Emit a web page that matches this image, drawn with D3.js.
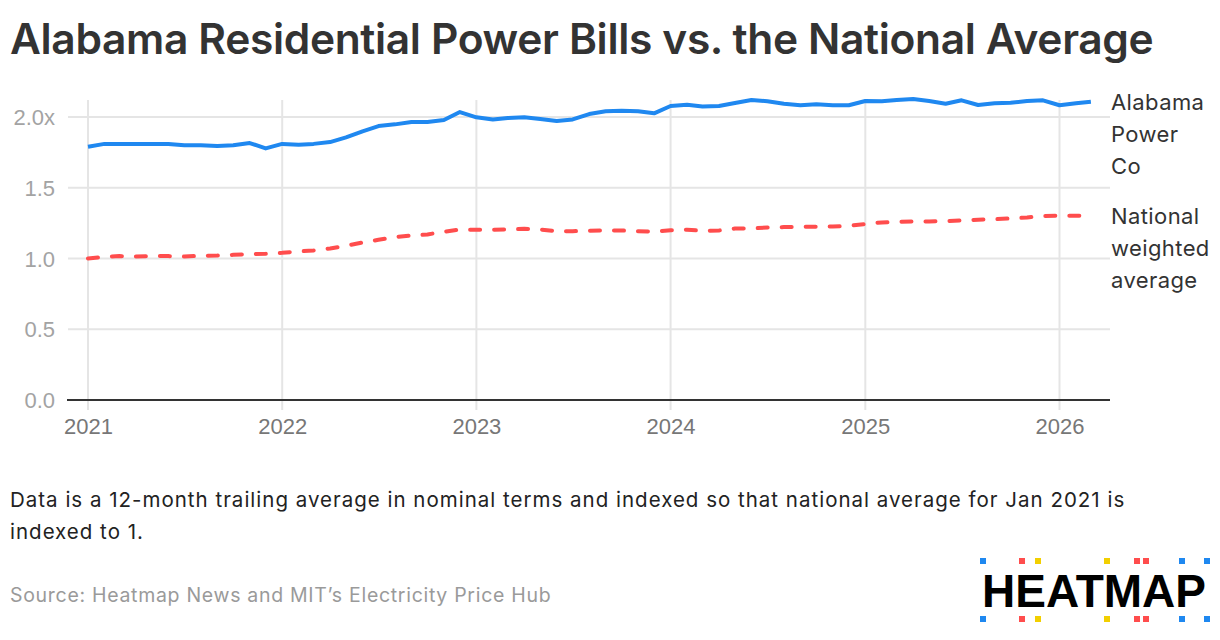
<!DOCTYPE html>
<html>
<head>
<meta charset="utf-8">
<script src="https://cdn.jsdelivr.net/npm/d3@7"></script>
<style>
  body { margin: 0; background: #fff; }
  svg { display: block; }
</style>
</head>
<body>
<svg id="chart" width="1220" height="640"></svg>
<script>
// monthly values, Jan 2021 .. Mar 2026 (indexed, national Jan 2021 = 1)
const startYear = 2021;
const alabama = [
  1.79, 1.81, 1.81, 1.81, 1.81, 1.81, 1.80, 1.80, 1.795, 1.80, 1.816, 1.778,
  1.81, 1.804, 1.81, 1.823, 1.856, 1.899, 1.936, 1.948, 1.965, 1.965, 1.979, 2.035,
  1.998, 1.983, 1.993, 1.998, 1.986, 1.972, 1.983, 2.021, 2.04, 2.045, 2.04, 2.026,
  2.078, 2.087, 2.075, 2.078, 2.099, 2.12, 2.111, 2.094, 2.083, 2.09, 2.083, 2.083,
  2.113, 2.111, 2.12, 2.127, 2.113, 2.094, 2.118, 2.085, 2.097, 2.101, 2.113, 2.118,
  2.083, 2.097, 2.108
];
const national = [
  1.00, 1.012, 1.017, 1.014, 1.017, 1.017, 1.014, 1.019, 1.021, 1.026, 1.031, 1.033,
  1.04, 1.05, 1.057, 1.071, 1.09, 1.113, 1.132, 1.151, 1.163, 1.17, 1.189, 1.205,
  1.203, 1.203, 1.205, 1.21, 1.205, 1.193, 1.193, 1.196, 1.198, 1.198, 1.193, 1.189,
  1.20, 1.203, 1.196, 1.198, 1.212, 1.212, 1.219, 1.222, 1.224, 1.224, 1.226, 1.231,
  1.243, 1.255, 1.259, 1.262, 1.262, 1.264, 1.269, 1.274, 1.278, 1.283, 1.29, 1.30,
  1.302, 1.302, 1.302
];
const yTicks = [0, 0.5, 1, 1.5, 2];
const xTickYears = [2021, 2022, 2023, 2024, 2025, 2026];
const seriesNames = [["Alabama", "Power", "Co"], ["National", "weighted", "average"]];
const noteLines = [
  "Data is a 12-month trailing average in nominal terms and indexed so that national average for Jan 2021 is",
  "indexed to 1."
];
const sourceText = "Source: Heatmap News and MIT\u2019s Electricity Price Hub";

const svg = d3.select("#chart");
const textFont = "Inter, 'Noto Sans', sans-serif";
const axisFont = "'Liberation Sans', Arial, sans-serif";

const x = d3.scaleTime()
  .domain([new Date(2021, 0, 1), new Date(2026, 0, 1)])
  .range([88, 1059.5]);
const y = d3.scaleLinear().domain([0, 2]).range([400, 117]);

const dates = alabama.map((d, i) => new Date(startYear, i, 1));

// title
svg.append("text")
  .attr("x", 10).attr("y", 54)
  .attr("font-family", textFont)
  .attr("font-weight", 600)
  .attr("font-size", 42.5)
  .attr("letter-spacing", -0.35)
  .attr("fill", "#333")
  .text("Alabama Residential Power Bills vs. the National Average");

// grid
const grid = svg.append("g");
grid.selectAll(".hg").data(yTicks.filter(d => d > 0)).enter().append("line")
  .attr("x1", 68).attr("x2", 1110)
  .attr("y1", d => y(d)).attr("y2", d => y(d))
  .attr("stroke", "#e5e5e5").attr("stroke-width", 2);
grid.selectAll(".vg").data(xTickYears).enter().append("line")
  .attr("x1", d => x(new Date(d, 0, 1))).attr("x2", d => x(new Date(d, 0, 1)))
  .attr("y1", 100).attr("y2", 410)
  .attr("stroke", "#e5e5e5").attr("stroke-width", 2);

// baseline
svg.append("line")
  .attr("x1", 67).attr("x2", 1110)
  .attr("y1", y(0)).attr("y2", y(0))
  .attr("stroke", "#333").attr("stroke-width", 2);

// y axis labels
const yAxis = svg.append("g").attr("transform", "translate(55,0)")
  .call(d3.axisLeft(y).tickValues(yTicks).tickSize(0).tickPadding(0)
    .tickFormat(d => d === 2 ? "2.0x" : d3.format(".1f")(d)));
yAxis.select(".domain").remove();
yAxis.selectAll("text")
  .attr("font-family", axisFont).attr("font-size", 22).attr("fill", "#a3a3a3")
  .attr("dy", "0.35em");

// x axis labels
const xAxis = svg.append("g").attr("transform", "translate(0,418)")
  .call(d3.axisBottom(x).tickValues(xTickYears.map(d => new Date(d, 0, 1)))
    .tickSize(0).tickPadding(0).tickFormat(d3.timeFormat("%Y")));
xAxis.select(".domain").remove();
xAxis.selectAll("text")
  .attr("font-family", axisFont).attr("font-size", 22).attr("fill", "#777")
  .attr("dy", "0.71em");

// lines
const line = d3.line().x((d, i) => x(dates[i])).y(d => y(d));
svg.append("path").datum(national)
  .attr("d", line).attr("fill", "none")
  .attr("stroke", "#ff4d4d").attr("stroke-width", 4)
  .attr("stroke-linecap", "round").attr("stroke-linejoin", "round")
  .attr("stroke-dasharray", "10,14");
svg.append("path").datum(alabama)
  .attr("d", line).attr("fill", "none")
  .attr("stroke", "#1f88f0").attr("stroke-width", 4)
  .attr("stroke-linejoin", "round");

// series labels
const labelTops = [110, 224];
seriesNames.forEach((lines, k) => {
  const t = svg.append("text")
    .attr("font-family", textFont).attr("font-size", 22)
    .attr("letter-spacing", 0.4).attr("fill", "#333");
  lines.forEach((s, j) => {
    t.append("tspan").attr("x", 1111).attr("y", labelTops[k] + j * 32).text(s);
  });
});

// note
noteLines.forEach((s, i) => {
  svg.append("text")
    .attr("x", 10).attr("y", 507 + i * 32)
    .attr("font-family", textFont).attr("font-size", 20.5)
    .attr("letter-spacing", 1.0).attr("fill", "#222")
    .text(s);
});

// source
svg.append("text")
  .attr("x", 10).attr("y", 602)
  .attr("font-family", textFont).attr("font-size", 19.5)
  .attr("letter-spacing", 0.7).attr("fill", "#9a9a9a")
  .text(sourceText);

// logo
const logoDots = [
  [983, "#1f88f0"], [1022, "#ff4d4d"], [1038, "#f2cf00"], [1107, "#f2cf00"],
  [1137, "#ff4d4d"], [1146, "#ff4d4d"], [1182, "#1f88f0"], [1207, "#1f88f0"]
];
const logo = svg.append("g");
[561, 619].forEach(cy => {
  logo.selectAll(null).data(logoDots).enter().append("rect")
    .attr("x", d => d[0] - 3).attr("y", cy - 3)
    .attr("width", 6).attr("height", 6)
    .attr("fill", d => d[1]);
});
logo.append("text")
  .attr("x", 982).attr("y", 607)
  .attr("font-family", "'Liberation Sans', Arial, sans-serif")
  .attr("font-weight", 700).attr("font-size", 46)
  .attr("fill", "#000")
  .text("HEATMAP");
</script>
</body>
</html>
